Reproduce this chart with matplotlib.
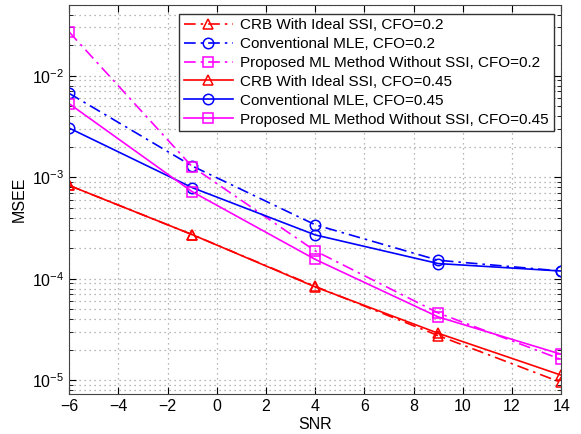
import matplotlib.pyplot as plt
import numpy as np

plt.rcParams['font.family'] = ['Liberation Sans', 'DejaVu Sans']
plt.rcParams['mathtext.fontset'] = 'custom'
plt.rcParams['mathtext.rm'] = 'Liberation Sans'

snr = [-6, -1, 4, 9, 14]

# CFO = 0.2
crb_02 = [8.3e-4, 2.72e-4, 8.4e-5, 2.75e-5, 9.5e-6]
mle_02 = [6.7e-3, 1.29e-3, 3.4e-4, 1.52e-4, 1.19e-4]
prop_02 = [2.7e-2, 1.27e-3, 1.88e-4, 4.6e-5, 1.6e-5]

# CFO = 0.45
crb_045 = [8.3e-4, 2.72e-4, 8.3e-5, 2.9e-5, 1.12e-5]
mle_045 = [3.05e-3, 7.9e-4, 2.7e-4, 1.41e-4, 1.19e-4]
prop_045 = [5.3e-3, 7.2e-4, 1.55e-4, 4.2e-5, 1.8e-5]

labels = ['CRB With Ideal SSI, CFO=0.2',
          'Conventional MLE, CFO=0.2',
          'Proposed ML Method Without SSI, CFO=0.2',
          'CRB With Ideal SSI, CFO=0.45',
          'Conventional MLE, CFO=0.45',
          'Proposed ML Method Without SSI, CFO=0.45']

red = '#ff0000'
blue = '#0000ff'
mag = '#ff00ff'
dashdot = (0, (7, 3, 1.5, 3))

fig = plt.figure(figsize=(5.81, 4.34), dpi=100)
ax = fig.add_axes([0.119, 0.092, 0.847, 0.897])

series = [(crb_02, red, dashdot, '^'),
          (mle_02, blue, dashdot, 'o'),
          (prop_02, mag, dashdot, 's'),
          (crb_045, red, '-', '^'),
          (mle_045, blue, '-', 'o'),
          (prop_045, mag, '-', 's')]

for (vals, c, ls, m), lab in zip(series, labels):
    ax.semilogy(snr, vals, color=c, linestyle=ls, marker=m, markersize=7.5,
                markerfacecolor='none', markeredgecolor=c, markeredgewidth=1.1,
                linewidth=1.2, label=lab)

ax.set_xlim(-6, 14)
ax.set_ylim(7.3e-6, 5e-2)
ax.set_xticks(np.arange(-6, 15, 2))
ax.set_xlabel('SNR', fontsize=11.5, labelpad=2)
ax.set_ylabel('MSEE', fontsize=11.5, labelpad=4)
ax.tick_params(which='both', direction='in', top=True, right=True, labelsize=11.5)
ax.tick_params(which='major', length=5)
ax.tick_params(which='minor', length=3)
ax.grid(True, which='major', linestyle=(0, (1, 3)), color='#a0a0a0', linewidth=0.9)
ax.grid(True, which='minor', axis='y', linestyle=(0, (1, 3)), color='#a0a0a0', linewidth=0.9)
for s in ax.spines.values():
    s.set_color('#444444')

leg = ax.legend(loc='upper right', fontsize=11, fancybox=False, framealpha=1,
                edgecolor='#333333', borderaxespad=0.5, handlelength=3.2,
                labelspacing=0.32, borderpad=0.3, handletextpad=0.5,
                bbox_to_anchor=(1.0, 0.997))
leg.get_frame().set_linewidth(1.0)

fig.savefig('out.png', dpi=100)
